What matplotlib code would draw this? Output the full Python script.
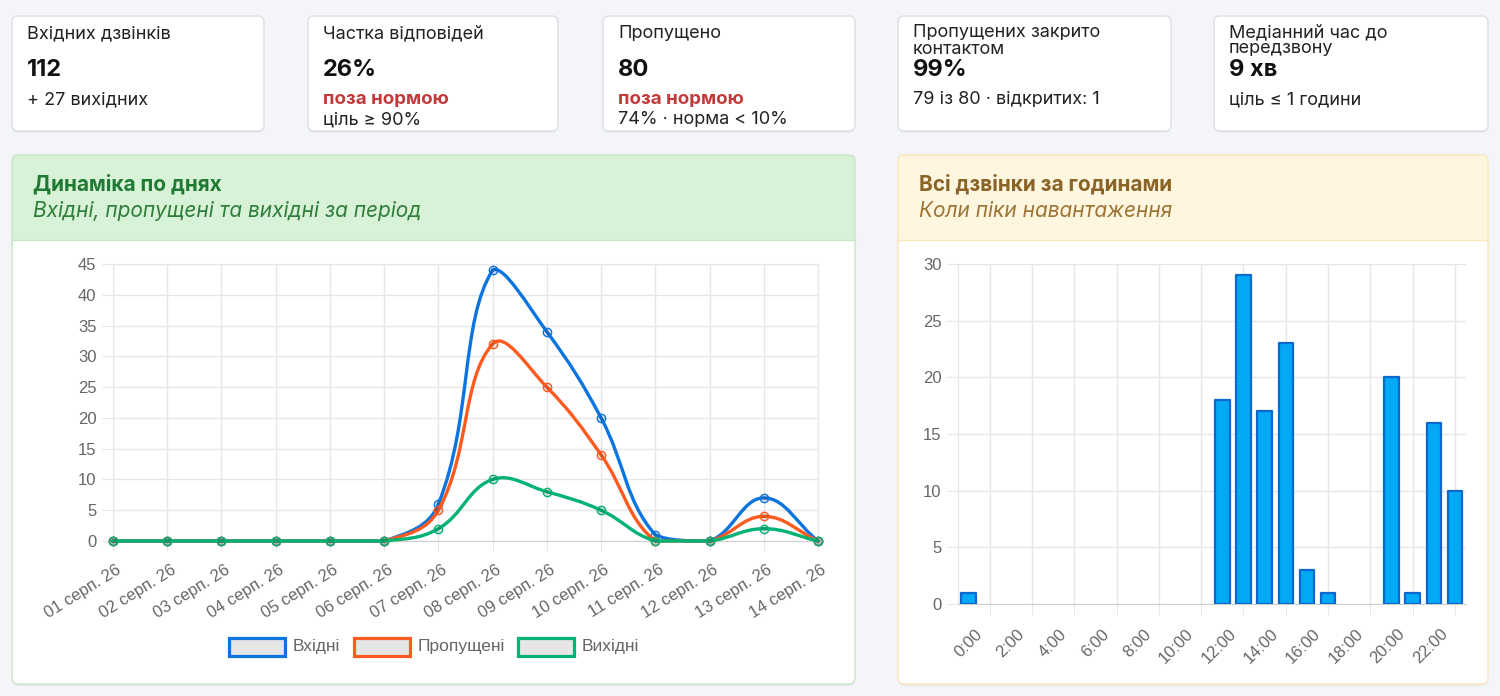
import matplotlib
matplotlib.use('Agg')
import matplotlib.pyplot as plt
import numpy as np
from matplotlib.patches import FancyBboxPatch, Rectangle, PathPatch
from matplotlib.path import Path
import matplotlib.transforms as mtransforms

# ---------------- data ----------------
kpi_titles = [["Вхідних дзвінків"], ["Частка відповідей"], ["Пропущено"],
              ["Пропущених закрито", "контактом"], ["Медіанний час до", "передзвону"]]
kpi_values = ["112", "26%", "80", "99%", "9 хв"]
kpi_alerts = [None, "поза нормою", "поза нормою", None, None]
kpi_notes = ["+ 27 вихідних", "ціль ≥ 90%", "74% · норма < 10%", "79 із 80 · відкритих: 1", "ціль ≤ 1 години"]

dates = ["01 серп. 26", "02 серп. 26", "03 серп. 26", "04 серп. 26", "05 серп. 26",
         "06 серп. 26", "07 серп. 26", "08 серп. 26", "09 серп. 26", "10 серп. 26",
         "11 серп. 26", "12 серп. 26", "13 серп. 26", "14 серп. 26"]
incoming = [0, 0, 0, 0, 0, 0, 6, 44, 34, 20, 1, 0, 7, 0]
missed = [0, 0, 0, 0, 0, 0, 5, 32, 25, 14, 0, 0, 4, 0]
outgoing = [0, 0, 0, 0, 0, 0, 2, 10, 8, 5, 0, 0, 2, 0]
series_names = ["Вхідні", "Пропущені", "Вихідні"]

hours = ["0:00", "1:00", "2:00", "3:00", "4:00", "5:00", "6:00", "7:00", "8:00", "9:00",
         "10:00", "11:00", "12:00", "13:00", "14:00", "15:00", "16:00", "17:00", "18:00",
         "19:00", "20:00", "21:00", "22:00", "23:00"]
hour_counts = [1, 0, 0, 0, 0, 0, 0, 0, 0, 0, 0, 0, 18, 29, 17, 23, 3, 1, 0, 0, 20, 1, 16, 10]

# ---------------- style ----------------
W, H = 1500, 696
BG = '#F4F5F9'
KFONT = ['Inter', 'DejaVu Sans']
CFONT = ['Liberation Sans', 'DejaVu Sans']
GRID = '#E6E6E6'
TICKC = '#666666'
TICKFS = 12
line_colors = ['#0B74DE', '#FF5A1F', '#00B274']

fig = plt.figure(figsize=(W / 100, H / 100), dpi=100)
fig.patch.set_facecolor(BG)

bg = fig.add_axes([0, 0, 1, 1])
bg.set_xlim(0, W)
bg.set_ylim(H, 0)
bg.axis('off')


def rbox(x0, y0, x1, y1, fc='white', ec='#DCDFE5', r=6, lw=1, z=1):
    p = FancyBboxPatch((x0, y0), x1 - x0, y1 - y0,
                       boxstyle=f'round,pad=0,rounding_size={r}',
                       fc=fc, ec=ec, lw=lw, zorder=z)
    bg.add_patch(p)
    return p


def card(x0, y0, x1, y1):
    rbox(x0, y0 + 1.5, x1, y1 + 1.5, fc='#E2E5EB', ec='none', z=0.5)
    rbox(x0, y0, x1, y1, fc='white', ec='#DCDFE5', z=1)


# KPI cards
card_x = [(12, 264), (308, 558), (603, 855), (898, 1171), (1214, 1488)]
for i, (x0, x1) in enumerate(card_x):
    card(x0, 16, x1, 131)
    tx = x0 + 15
    titles = kpi_titles[i]
    if len(titles) == 1:
        bg.text(tx, 33.5, titles[0], fontsize=13, family=KFONT, color='#222222', va='center', zorder=3)
        vy = 69.5
        ny = 99.5
    else:
        bg.text(tx, 32.5, titles[0], fontsize=13, family=KFONT, color='#222222', va='center', zorder=3)
        bg.text(tx, 49, titles[1], fontsize=13, family=KFONT, color='#222222', va='center', zorder=3)
        vy = 70.5
        ny = 99.5
    bg.text(tx, vy, kpi_values[i], fontsize=17, family=KFONT, weight='bold', color='#111111',
            va='center', zorder=3)
    if kpi_alerts[i]:
        bg.text(tx, 99.5, kpi_alerts[i], fontsize=13.5, family=KFONT, weight='bold', color='#C23A3A',
                va='center', zorder=3)
        ny = 119.5
    bg.text(tx, ny, kpi_notes[i], fontsize=13, family=KFONT, color='#222222', va='center', zorder=3)


def panel(x0, y0, x1, y1, hy, hfc, hec, title, sub, tc, sc):
    rbox(x0, y0 + 1.5, x1, y1 + 1.5, fc='#E2E5EB', ec='none', z=0.5)
    rbox(x0, y0, x1, y1, fc='white', ec='none', z=1)
    rbox(x0, y0, x1, hy + 10, fc=hfc, ec='none', z=1.1)
    bg.add_patch(Rectangle((x0 + 0.5, hy), x1 - x0 - 1, 12, fc='white', ec='none', zorder=1.2))
    bg.plot([x0, x1], [hy, hy], color=hec, lw=1, zorder=1.3)
    rbox(x0, y0, x1, y1, fc='none', ec=hec, z=1.4)
    bg.text(x0 + 21, 184, title, fontsize=15, family=KFONT, weight='bold', color=tc, va='center', zorder=3)
    bg.text(x0 + 21, 211, sub, fontsize=15, family=KFONT, style='italic', color=sc, va='center', zorder=3)


panel(12, 155, 855, 684, 240, '#D8F2D7', '#C6E6C3', "Динаміка по днях",
      "Вхідні, пропущені та вихідні за період", '#1F7A33', '#2E7D3A')
panel(898, 155, 1488, 684, 240, '#FFF6DF', '#FBE5B8', "Всі дзвінки за годинами",
      "Коли піки навантаження", '#8A6327', '#9C7536')

# ---------------- line chart ----------------
ax1 = fig.add_axes([113 / W, 1 - 541 / H, 705 / W, 277 / H])
ax1.set_facecolor('none')
xs = np.arange(len(dates))
ax1.set_xlim(0, len(dates) - 1)
ax1.set_ylim(0, 45)
ax1.set_yticks(np.arange(0, 46, 5))
ax1.set_xticks(xs)
ax1.set_xticklabels(dates, rotation=32, ha='right', rotation_mode='anchor')
ax1.grid(True, color=GRID, lw=1, zorder=0)
ax1.set_axisbelow(True)
for s in ax1.spines.values():
    s.set_color(GRID)
ax1.spines['bottom'].set_color('#CFCFCF')
ax1.tick_params(axis='both', color=GRID, labelcolor=TICKC, labelsize=TICKFS)
ax1.tick_params(axis='x', length=7, pad=8)
ax1.tick_params(axis='y', length=8, pad=4)
for lab in ax1.get_xticklabels() + ax1.get_yticklabels():
    lab.set_family(CFONT)
off = mtransforms.ScaledTranslation(3 / 100, 0, fig.dpi_scale_trans)
for lab in ax1.get_xticklabels():
    lab.set_transform(lab.get_transform() + off)


def chartjs_path(ax, x, y, t=0.4):
    P = ax.transData.transform(np.column_stack([x, y]).astype(float))
    n = len(P)
    cpp = np.zeros_like(P)
    cpn = np.zeros_like(P)
    for i in range(n):
        prev = P[i - 1] if i > 0 else P[i]
        nxt = P[i + 1] if i < n - 1 else P[i]
        cur = P[i]
        d01 = np.hypot(*(cur - prev))
        d12 = np.hypot(*(nxt - cur))
        tot = d01 + d12
        s01 = d01 / tot if tot else 0
        s12 = d12 / tot if tot else 0
        cpp[i] = cur - t * s01 * (nxt - prev)
        cpn[i] = cur + t * s12 * (nxt - prev)
    bb = ax.bbox
    for c in (cpp, cpn):
        c[:, 0] = np.clip(c[:, 0], bb.x0, bb.x1)
        c[:, 1] = np.clip(c[:, 1], bb.y0, bb.y1)
    verts = [P[0]]
    codes = [Path.MOVETO]
    for i in range(1, n):
        verts += [cpn[i - 1], cpp[i], P[i]]
        codes += [Path.CURVE4] * 3
    inv = ax.transData.inverted()
    return Path(inv.transform(np.array(verts)), codes)


for k, (vals, col) in enumerate(zip([incoming, missed, outgoing], line_colors)):
    path = chartjs_path(ax1, xs, vals)
    ax1.add_patch(PathPatch(path, fc='none', ec=col, lw=2.4, capstyle='round',
                            joinstyle='round', zorder=3 + 2 * k, clip_on=False))
    ax1.plot(xs, vals, 'o', ms=6, mfc=(0, 0, 0, 0.1), mec=col, mew=1, zorder=4 + 2 * k,
             clip_on=False)

# legend (manual, Chart.js style)
leg_x = [227, 352, 516]
for name, col, lx in zip(series_names, line_colors, leg_x):
    bg.add_patch(Rectangle((lx + 1.5, 637.5), 56, 18, fc='#E6E6E6', ec=col, lw=2.3, zorder=3))
    bg.text(lx + 66, 647, name, fontsize=12.5, family=CFONT, color=TICKC, va='center', zorder=3)

# ---------------- bar chart ----------------
ax2 = fig.add_axes([958 / W, 1 - 604 / H, 507.5 / W, 340 / H])
ax2.set_facecolor('none')
hx = np.arange(len(hours))
ax2.set_xlim(-0.5, len(hours) - 0.5)
ax2.set_ylim(0, 30)
bars = ax2.bar(hx, hour_counts, width=0.68, color='#03A9F4', edgecolor='#0B68CF', lw=1.6,
               zorder=3)
for b, v in zip(bars, hour_counts):
    if v == 0:
        b.set_visible(False)
    b.set_joinstyle('round')
ax2.set_xticks(hx[::2])
ax2.set_xticklabels(hours[::2], rotation=45, ha='right', rotation_mode='anchor')
ax2.set_xticks(hx[1::2], minor=True)
ax2.set_yticks(np.arange(0, 31, 5))
ax2.grid(True, which='minor', axis='x', color=GRID, lw=1, zorder=0)
ax2.grid(True, which='major', axis='y', color=GRID, lw=1, zorder=0)
ax2.set_axisbelow(True)
for s in ax2.spines.values():
    s.set_color(GRID)
ax2.spines['top'].set_visible(False)
ax2.spines['right'].set_visible(False)
ax2.spines['bottom'].set_color('#CFCFCF')
ax2.tick_params(axis='x', which='major', length=0, pad=16, labelcolor=TICKC, labelsize=TICKFS)
ax2.tick_params(axis='x', which='minor', length=8, color=GRID)
ax2.tick_params(axis='y', length=8, pad=4, color=GRID, labelcolor=TICKC, labelsize=TICKFS)
for lab in ax2.get_xticklabels() + ax2.get_yticklabels():
    lab.set_family(CFONT)
off2 = mtransforms.ScaledTranslation(6 / 100, 0, fig.dpi_scale_trans)
for lab in ax2.get_xticklabels():
    lab.set_transform(lab.get_transform() + off2)

fig.savefig('out.png', dpi=100, facecolor=BG)
